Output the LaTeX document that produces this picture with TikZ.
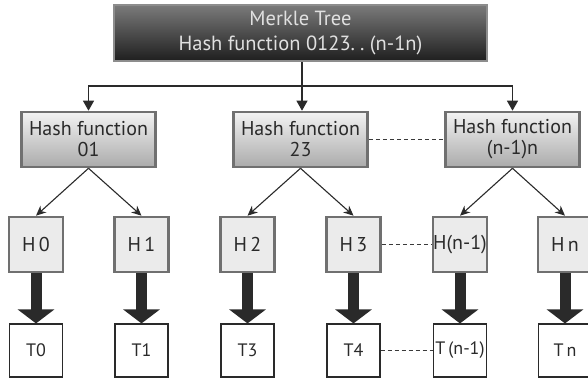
\documentclass[tikz,border=0pt]{standalone}
\usepackage{fontspec}
\setmainfont{PT Sans}
\frenchspacing
\usetikzlibrary{arrows.meta,shadings}
\definecolor{ink}{HTML}{2A2A2A}
\definecolor{rim}{HTML}{707070}
\definecolor{dash}{HTML}{3A3A3A}
\tikzset{
  rootbox/.style={draw=rim!80!white, line width=1.8pt, top color=black!52, bottom color=black!88,
    minimum width=373pt, minimum height=56pt, inner sep=0pt, text=white!88!black,
    align=center, font=\fontsize{20.5}{25}\selectfont},
  midbox/.style={draw=rim, line width=2.6pt, top color=black!5, bottom color=black!33,
    minimum width=134pt, minimum height=55pt, inner sep=0pt, text=ink,
    align=center, font=\fontsize{20}{21}\selectfont},
  hbox/.style={draw=rim, line width=2.6pt, fill=black!8, minimum width=54pt,
    minimum height=55pt, inner sep=0pt, text=ink, font=\fontsize{20}{21}\selectfont},
  tbox/.style={draw=ink, line width=1.1pt, fill=white, minimum width=53pt,
    minimum height=53pt, inner sep=0pt, text=ink, font=\fontsize{18}{20}\selectfont},
  link/.style={draw=ink, line width=1.1pt, -{Triangle[length=10pt,width=11pt]}},
  slant/.style={draw=ink, line width=1.1pt, -{Stealth[length=10pt,width=9pt]}},
  fat/.style={draw=ink, line width=11pt, -{Triangle[length=14pt,width=36pt]}},
  gap/.style={draw=dash, line width=0.9pt, dash pattern=on 4pt off 3pt},
}
\begin{document}
\begin{tikzpicture}[x=1pt,y=-1pt]
\useasboundingbox (0,0) rectangle (588,379);

% root of the tree
\node[rootbox] (root) at (300.5,33) {Merkle Tree\\Hash function 0123.\kern5pt.\ (n-1n)};

% intermediate hash functions
\node[midbox] (m1) at (88.5,139.5) {Hash function\\01};
\node[midbox] (m2) at (300.5,139.5) {Hash function\\23};
\node[midbox] (m3) at (512.5,139.5) {Hash function\\(n-1)n};

% leaf hashes
\node[hbox] (h0) at (36,244.5) {H\,0};
\node[hbox] (h1) at (141.5,244.5) {H\,1};
\node[hbox] (h2) at (247.5,244.5) {H\,2};
\node[hbox] (h3) at (353.5,244.5) {H\,3};
\node[hbox] (h4) at (460,244.5) {H(n-1)};
\node[hbox] (h5) at (565,244.5) {H\,n};

% transactions
\node[tbox] (t0) at (36,350.5) {T0};
\node[tbox] (t1) at (141.5,350.5) {T1};
\node[tbox] (t2) at (247.5,350.5) {T3};
\node[tbox] (t3) at (353.5,350.5) {T4};
\node[tbox] (t4) at (460,350.5) {T\,(n-1)};
\node[tbox] (t5) at (565,350.5) {T\,n};

% distribution bus below the root
\coordinate (bus) at (302,86);
\draw[link] (root.south -| bus) -- (m2.north -| bus);
\draw[link] (bus) -| (m1.north);
\draw[link] (bus) -| (m3.north);

% branches to the leaf hashes
\draw[slant] (m1.south) -- (h0.north);
\draw[slant] (m1.south) -- (h1.north);
\draw[slant] (m2.south) -- (h2.north);
\draw[slant] (m2.south) -- (h3.north);
\draw[slant] (m3.south) -- (h4.north);
\draw[slant] (m3.south) -- (h5.north);

% heavy arrows from hashes to transactions
\foreach \i in {0,...,5} \draw[fat] (h\i.south) -- (t\i.north);

% elided ranges
\draw[gap] (m2.east) -- (m3.west);
\draw[gap] (h3.east) -- (h4.west);
\draw[gap] (t3.east) -- (t4.west);
\end{tikzpicture}
\end{document}
